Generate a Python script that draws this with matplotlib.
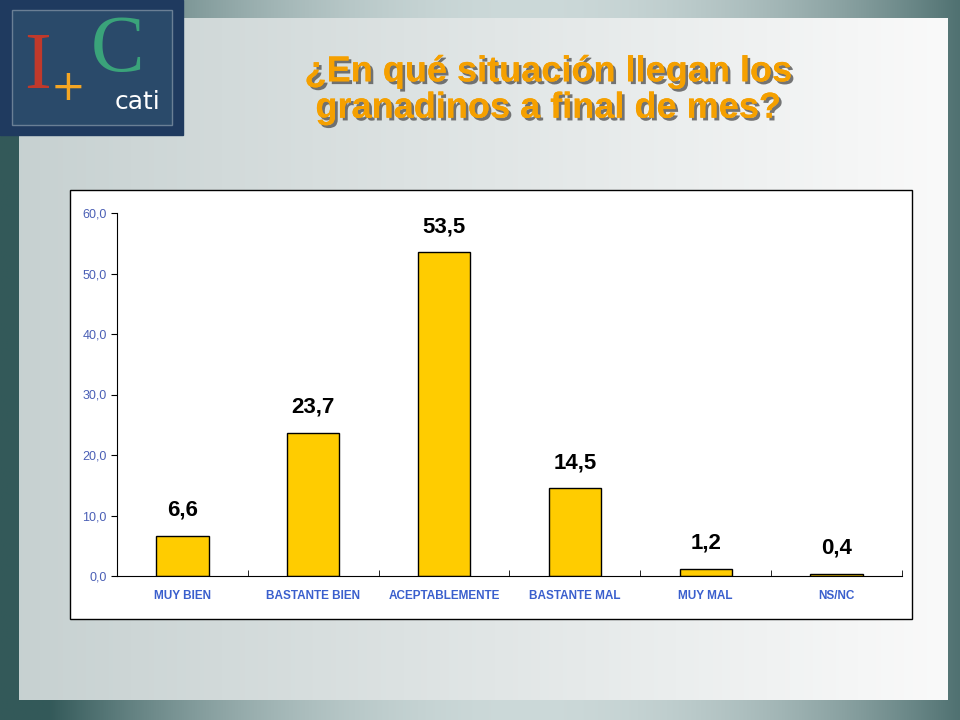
import matplotlib
matplotlib.use("Agg")
import matplotlib.pyplot as plt
import matplotlib.patheffects as pe
import numpy as np
from matplotlib.patches import Rectangle

categories = ["MUY BIEN", "BASTANTE BIEN", "ACEPTABLEMENTE", "BASTANTE MAL", "MUY MAL", "NS/NC"]
values = [6.6, 23.7, 53.5, 14.5, 1.2, 0.4]
yticks = [0, 10, 20, 30, 40, 50, 60]

fig = plt.figure(figsize=(9.6, 7.2), dpi=100)

# background
bg = fig.add_axes([0, 0, 1, 1]); bg.set_axis_off()
x = np.linspace(0, 1, 400)
edge = np.clip(np.abs(x - 0.55) * 2, 0, 1)
row = np.stack([0.2 + 0.6*(1-edge**2), 0.35 + 0.5*(1-edge**2), 0.35 + 0.5*(1-edge**2)], axis=-1)
bg.imshow(np.tile(row[None], (10, 1, 1)), extent=[0, 1, 0, 1], aspect="auto")
x2 = np.linspace(0, 1, 400)
inner = np.stack([0.78 + 0.2*x2, 0.82 + 0.16*x2, 0.82 + 0.16*x2], axis=-1)
inner = np.clip(inner, 0, 1)
bg.imshow(np.tile(inner[None], (10, 1, 1)), extent=[19/960, 948/960, 20/720, 702/720], aspect="auto")
bg.set_xlim(0, 1); bg.set_ylim(0, 1)
# logo
bg.add_patch(Rectangle((0, 1-135/720), 183/960, 135/720, color="#1f3a5f"))
bg.add_patch(Rectangle((12/960, 1-125/720), 160/960, 115/720, facecolor="#2a4a6a", edgecolor="#6a7f95"))
bg.text(38/960, 1-68/720, "I", color="#c0392b", fontsize=58, fontfamily="Liberation Serif", ha="center", va="center")
bg.text(68/960, 1-88/720, "+", color="#f5a623", fontsize=30, ha="center", va="center")
bg.text(118/960, 1-52/720, "C", color="#3aa37a", fontsize=58, fontfamily="Liberation Serif", ha="center", va="center")
bg.text(138/960, 1-102/720, "cati", color="white", fontsize=18, ha="center", va="center")
bg.add_patch(Rectangle((70/960, 1-619/720), 842/960, 429/720, facecolor="white", edgecolor="black", lw=1))

fig.text(0.571, 0.875, "¿En qué situación llegan los\ngranadinos a final de mes?", ha="center", va="center",
         fontsize=26, fontweight="bold", color="#f5a000", fontfamily="Liberation Sans", linespacing=1.05,
         path_effects=[pe.withSimplePatchShadow(offset=(2, -2), shadow_rgbFace="#555555", alpha=0.8), pe.Normal()])

ax = fig.add_axes([117/960, 1-576/720, (902-117)/960, (576-213)/720])
ax.patch.set_alpha(0)
xs = np.arange(len(categories))
ax.bar(xs, values, width=0.4, color="#ffcc00", edgecolor="black", lw=1)
for xi, v in zip(xs, values):
    ax.text(xi, v + 2.5, f"{v:.1f}".replace(".", ","), ha="center", va="bottom", fontsize=16,
            fontfamily="Liberation Sans", fontweight="semibold", color="black")
ax.set_xlim(-0.5, len(categories) - 0.5)
ax.set_ylim(0, 60)
ax.set_yticks(yticks)
ax.set_yticklabels([f"{t:.1f}".replace(".", ",") for t in yticks], color="#4a5fb5", fontsize=9,
                   fontfamily="Liberation Sans")
ax.set_xticks(xs)
ax.set_xticklabels(categories, color="#3a5fcd", fontsize=8.5, fontweight="bold", fontfamily="Liberation Sans")
ax.set_xticks(np.arange(len(categories)+1) - 0.5, minor=True)
ax.tick_params(axis="x", which="major", length=0, pad=10)
ax.tick_params(axis="x", which="minor", length=4, direction="in")
ax.tick_params(axis="y", length=4, direction="out")
for s in ["top", "right"]:
    ax.spines[s].set_visible(False)
fig.savefig("out.png", dpi=100)
